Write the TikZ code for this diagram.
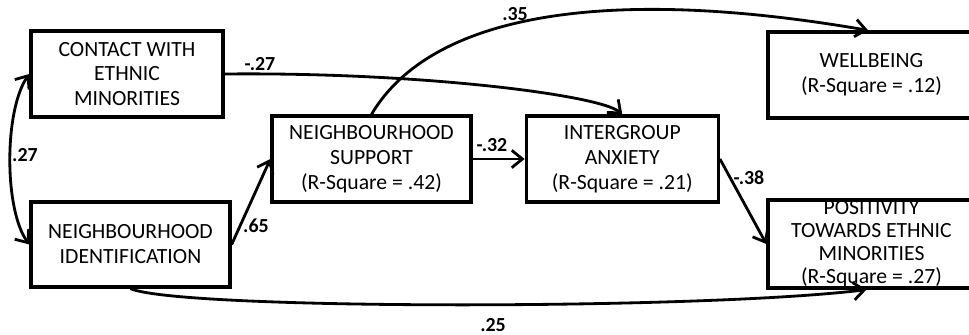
\documentclass[tikz,border=0pt]{standalone}
\usepackage{fontspec}
\setmainfont{Carlito}
\usetikzlibrary{positioning,arrows.meta}

\begin{document}
\begin{tikzpicture}[x=0.03cm,y=-0.03cm,
  node distance=1.56cm,
  b/.style={draw,line width=2.8pt,align=center,minimum height=2.58cm,inner sep=2pt,
            font=\fontsize{18.5}{21.3}\selectfont},
  a/.style={-{Straight Barb[length=3.2mm,width=5.2mm]},line width=2.4pt},
  l/.style={font=\bfseries\fontsize{17}{20}\selectfont,inner sep=0pt}]
\useasboundingbox (0,0) rectangle (969,335);
\node[b,minimum width=5.76cm] (contact) at (127,74) {CONTACT WITH\\ETHNIC\\MINORITIES};
\node[b,minimum width=5.97cm,minimum height=2.55cm] (ident) at (130.5,244.5) {NEIGHBOURHOOD\\IDENTIFICATION};
\node[b,minimum width=5.97cm] (support) at (371.5,159) {NEIGHBOURHOOD\\SUPPORT\\(R-Square = .42)};
\node[b,minimum width=5.76cm,right=of support] (anxiety) {INTERGROUP\\ANXIETY\\(R-Square = .21)};
\node[b,minimum width=6.21cm] (wellbeing) at (871.5,75) {WELLBEING\\(R-Square = .12)};
\node[b,minimum width=6.21cm,minimum height=2.64cm,inner ysep=-3pt,
      font=\fontsize{18.5}{19.6}\selectfont] (positivity) at (871.5,244)
      {POSITIVITY\\TOWARDS ETHNIC\\MINORITIES\\(R-Square = .27)};
% paths
\draw[a] (contact.east) .. controls (420,72) and (600,95) .. (anxiety.north);
\draw[a] (support.north) .. controls (432,12) and (611,-14) .. ([xshift=-0.1cm]wellbeing.north);
\draw[a] (support.east) -- (anxiety.west);
\draw[a] (ident.east) -- (support.west);
\draw[a] (anxiety.east) -- (positivity.west);
\draw[a,{Straight Barb[length=3.2mm,width=5.2mm]}-{Straight Barb[length=3.2mm,width=5.2mm]}]
  (contact.west) .. controls (4,110) and (4,210) .. (ident.west);
\draw[a] (ident.south) .. controls (180,310) and (700,310) .. ([xshift=-0.15cm]positivity.south);
% coefficients
\node[l] (cw27) at (260,64) {-.27};
\node[l] (sw35) at (515,14) {.35};
\node[l] (sa32) at (492,145) {-.32};
\node[l] (is65) at (256,226) {.65};
\node[l] (ci27) at (25,155) {.27};
\node[l] (ap38) at (749,178) {-.38};
\node[l] (ip25) at (493,325) {.25};
\end{tikzpicture}
\end{document}
